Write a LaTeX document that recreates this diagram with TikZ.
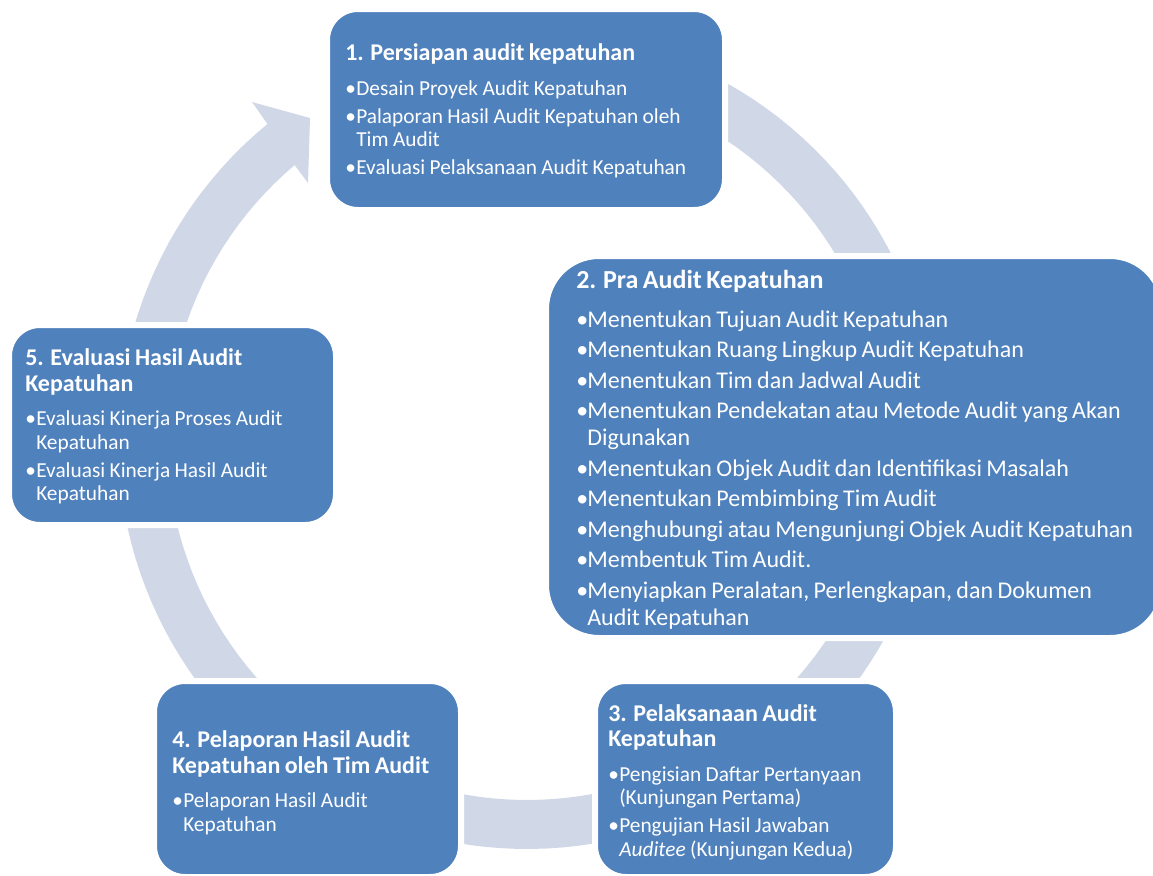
\documentclass[tikz,border=0pt]{standalone}
\usepackage{fontspec}
\setmainfont{Carlito}
\definecolor{boxblue}{RGB}{79,129,189}
\definecolor{ringc}{RGB}{208,216,232}
\newlength{\bw}\setlength{\bw}{8.25pt}
\newlength{\isep}
\newcommand{\itm}[1]{\par\vspace{\isep}\hangindent=\bw\hangafter=1\noindent\makebox[\bw][l]{•}#1}
\newcommand{\smallttl}{\fontsize{18}{19}\selectfont\bfseries}
\newcommand{\smallbody}{\par\vspace{5.25pt}\fontsize{16}{17.75}\selectfont\mdseries\setlength{\isep}{3pt}}
\begin{document}
\begin{tikzpicture}[x=0.75pt,y=-0.75pt,
  boxnode/.style={rectangle, fill=boxblue, draw=white, line width=4.5pt, inner sep=0pt},
  txt/.style={anchor=west, inner sep=0pt, text=white, text width=440pt, align=left},
  ring/.style={fill=ringc}
]
\useasboundingbox (0,0) rectangle (1153,875);
% circular arrow
\fill[ring] plot[domain=-115:230.6, samples=160] ({527+409*cos(\x)},{440+409*sin(\x)})
  -- (252,102) -- (310,118) -- (308,183) --
  plot[domain=229.8:-115, samples=160] ({527+360*cos(\x)},{440+360*sin(\x)}) -- cycle;
% boxes
\node[boxnode, minimum width=298.5pt, minimum height=150.75pt, rounded corners=23.25pt] (b1) at (526,109.5) {};
\node[boxnode, minimum width=462.75pt, minimum height=286.5pt, rounded corners=39.75pt] (b2) at (854.5,447) {};
\node[boxnode, minimum width=225.75pt, minimum height=147pt, rounded corners=23.25pt] (b3) at (745.5,779) {};
\node[boxnode, minimum width=230.25pt, minimum height=147pt, rounded corners=23.25pt] (b4) at (307.5,779) {};
\node[boxnode, minimum width=245.25pt, minimum height=150pt, rounded corners=23.25pt] (b5) at (172.5,425) {};
% texts
\node[txt] (t1) at (345,111) {\smallttl 1. Persiapan audit kepatuhan\smallbody
\itm{Desain Proyek Audit Kepatuhan}
\itm{Palaporan Hasil Audit Kepatuhan oleh\newline Tim Audit}
\itm{Evaluasi Pelaksanaan Audit Kepatuhan}\par};
\node[txt] (t2) at (576,449.5) {\fontsize{19.5}{21}\selectfont\bfseries 2. Pra Audit Kepatuhan\par\vspace{6.4pt}\fontsize{18}{20.25}\selectfont\mdseries\setlength{\isep}{2.6pt}
\itm{Menentukan Tujuan Audit Kepatuhan}
\itm{Menentukan Ruang Lingkup Audit Kepatuhan}
\itm{Menentukan Tim dan Jadwal Audit}
\itm{Menentukan Pendekatan atau Metode Audit yang Akan\newline Digunakan}
\itm{Menentukan Objek Audit dan Identifikasi Masalah}
\itm{Menentukan Pembimbing Tim Audit}
\itm{Menghubungi atau Mengunjungi Objek Audit Kepatuhan}
\itm{Membentuk Tim Audit.}
\itm{Menyiapkan Peralatan, Perlengkapan, dan Dokumen\newline Audit Kepatuhan}\par};
\node[txt] (t3) at (608,782) {\smallttl 3. Pelaksanaan Audit\newline Kepatuhan\smallbody
\itm{Pengisian Daftar Pertanyaan\newline (Kunjungan Pertama)}
\itm{Pengujian Hasil Jawaban\newline \textit{Auditee} (Kunjungan Kedua)}\par};
\node[txt] (t4) at (172,783) {\smallttl 4. Pelaporan Hasil Audit\newline Kepatuhan oleh Tim Audit\smallbody
\itm{Pelaporan Hasil Audit\newline Kepatuhan}\par};
\node[txt] (t5) at (25,426.5) {\smallttl 5. Evaluasi Hasil Audit\newline Kepatuhan\smallbody
\itm{Evaluasi Kinerja Proses Audit\newline Kepatuhan}
\itm{Evaluasi Kinerja Hasil Audit\newline Kepatuhan}\par};
\end{tikzpicture}
\end{document}
